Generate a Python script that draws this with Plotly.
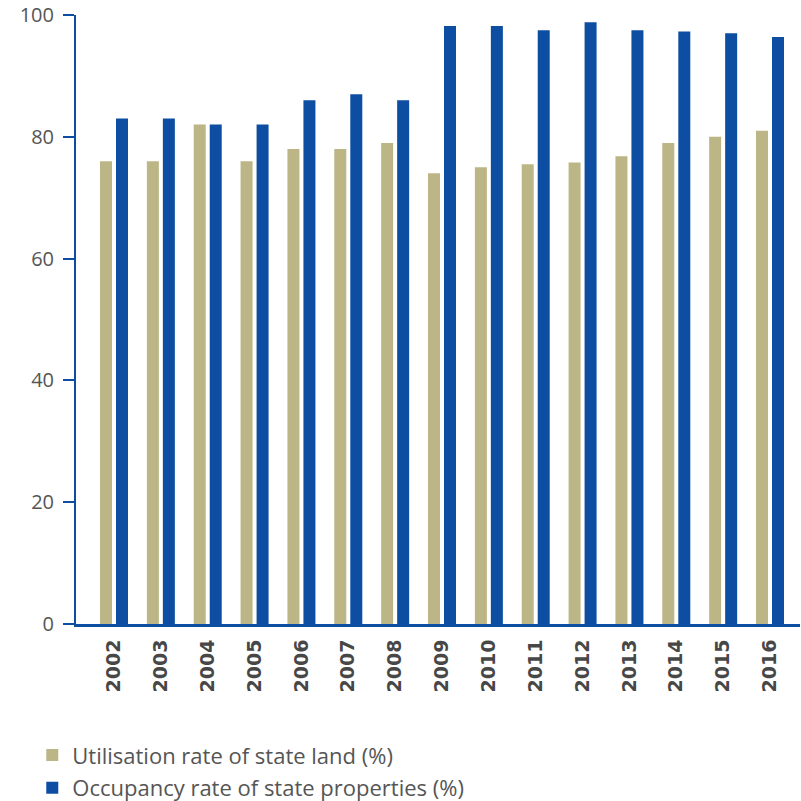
import plotly.graph_objects as go

years = ["2002", "2003", "2004", "2005", "2006", "2007", "2008", "2009",
         "2010", "2011", "2012", "2013", "2014", "2015", "2016"]
land_util = [76, 76, 82, 76, 78, 78, 79, 74, 75, 75.5, 75.8, 76.8, 79, 80, 81]
prop_occ = [83, 83, 82, 82, 86, 87, 86, 98.2, 98.2, 97.5, 98.8, 97.5, 97.3, 97, 96.4]
y_ticks = [0, 20, 40, 60, 80, 100]

TAN = "#bcb585"
BLUE = "#0d4ea2"

fig = go.Figure()
fig.add_trace(go.Bar(x=years, y=land_util, name="Utilisation rate of state land (%)",
                     marker=dict(color=TAN, line=dict(width=0)), legendgroup="a"))
fig.add_trace(go.Bar(x=years, y=prop_occ, name="Occupancy rate of state properties (%)",
                     marker=dict(color=BLUE, line=dict(width=0)), legendgroup="b"))

fig.update_layout(
    width=801, height=801,
    margin=dict(l=76, r=1, t=15, b=177, autoexpand=False),
    paper_bgcolor="white", plot_bgcolor="white",
    barmode="group", bargap=0.317, bargroupgap=0.25,
    font=dict(family="Open Sans", size=20, color="#555555"),
    showlegend=True,
    legend=dict(
        x=-0.0604, xanchor="left", y=-0.181, yanchor="top",
        font=dict(family="Open Sans", size=22, color="#555555"),
        tracegroupgap=1, bgcolor="rgba(0,0,0,0)",
    ),
    xaxis=dict(
        type="category", range=[-0.811, 14.64], automargin=False,
        showline=True, linecolor=BLUE, linewidth=3,
        showgrid=False, ticks="", tickangle=-90,
        tickfont=dict(family="DejaVu Sans", size=19, color="#474747", weight="bold"),
        ticklabelstandoff=5,
    ),
    yaxis=dict(
        range=[0, 100], tickvals=y_ticks, automargin=False,
        showline=True, linecolor=BLUE, linewidth=2,
        showgrid=False, zeroline=False,
        ticks="outside", ticklen=11, tickwidth=2, tickcolor=BLUE,
        tickfont=dict(family="Open Sans", size=20, color="#555555"),
        ticklabelstandoff=5,
    ),
)

fig.write_html("out.html", config={"displayModeBar": False},
               post_script="document.body.style.margin='0';document.body.style.overflow='hidden';")
